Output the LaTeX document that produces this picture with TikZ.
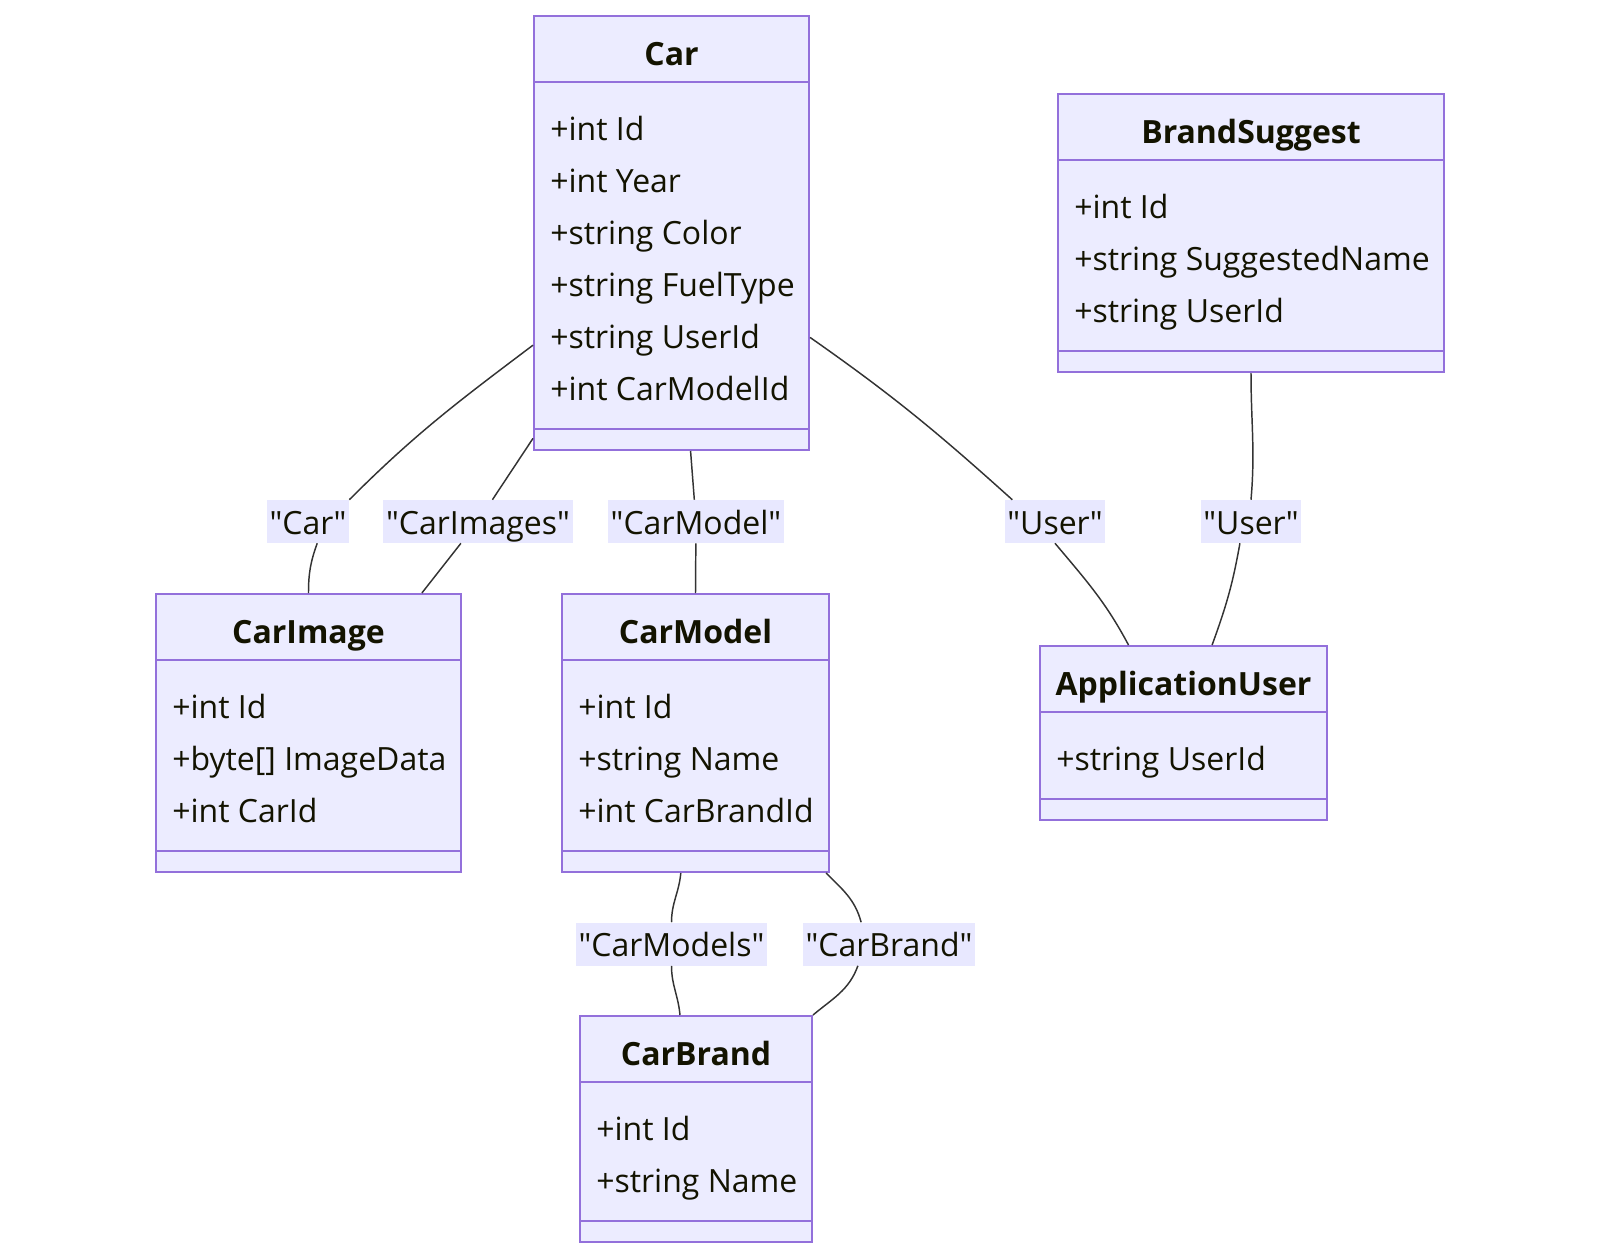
\documentclass[tikz,border=0pt]{standalone}
\usepackage{fontspec}
\setmainfont{Open Sans}
\usetikzlibrary{fit,calc}
\definecolor{ClassFill}{HTML}{ECECFF}
\definecolor{ClassLine}{HTML}{9370DB}
\definecolor{ClassText}{HTML}{131300}
\definecolor{EdgeGray}{HTML}{333333}
\definecolor{RoleFill}{HTML}{E8E8FF}

\begin{document}
\begin{tikzpicture}[
  x=0.75pt, y=-0.75pt,
  cls/.style={draw=ClassLine, fill=ClassFill, line width=1.5pt, inner sep=0pt},
  sep/.style={draw=ClassLine, line width=1.5pt},
  title/.style={anchor=base, inner sep=0pt, text=ClassText, font=\fontsize{24}{39}\selectfont\bfseries},
  attrs/.style={anchor=base west, inner sep=0pt, align=left, text=ClassText, font=\fontsize{24}{39}\selectfont},
  rel/.style={draw=EdgeGray, line width=1.1pt},
  role/.style={fill=RoleFill, text=ClassText, inner xsep=2pt, inner ysep=0pt, text height=25.5pt, text depth=6.75pt, font=\fontsize{24}{39}\selectfont}
]
\useasboundingbox (0,0) rectangle (1600,1258);

% class boxes
\node[cls, fit={(534,16) (809,450)}] (car) {};
\node[cls, fit={(1058,94) (1444,372)}] (bs) {};
\node[cls, fit={(156,594) (461,872)}] (carimage) {};
\node[cls, fit={(562,594) (829,872)}] (carmodel) {};
\node[cls, fit={(1040,646) (1327,820)}] (appuser) {};
\node[cls, fit={(580,1016) (812,1242)}] (carbrand) {};

% compartments
\draw[sep] ($(car.north west)+(0,67)$) -- ($(car.north east)+(0,67)$);
\draw[sep] ($(car.south west)+(0,-22)$) -- ($(car.south east)+(0,-22)$);
\draw[sep] ($(bs.north west)+(0,67)$) -- ($(bs.north east)+(0,67)$);
\draw[sep] ($(bs.south west)+(0,-22)$) -- ($(bs.south east)+(0,-22)$);
\draw[sep] ($(carimage.north west)+(0,67)$) -- ($(carimage.north east)+(0,67)$);
\draw[sep] ($(carimage.south west)+(0,-22)$) -- ($(carimage.south east)+(0,-22)$);
\draw[sep] ($(carmodel.north west)+(0,67)$) -- ($(carmodel.north east)+(0,67)$);
\draw[sep] ($(carmodel.south west)+(0,-22)$) -- ($(carmodel.south east)+(0,-22)$);
\draw[sep] ($(appuser.north west)+(0,67)$) -- ($(appuser.north east)+(0,67)$);
\draw[sep] ($(appuser.south west)+(0,-22)$) -- ($(appuser.south east)+(0,-22)$);
\draw[sep] ($(carbrand.north west)+(0,67)$) -- ($(carbrand.north east)+(0,67)$);
\draw[sep] ($(carbrand.south west)+(0,-22)$) -- ($(carbrand.south east)+(0,-22)$);

% names and members (base = last line)
\node[title] (carTitle) at (671.5,65) {Car};
\node[attrs] (carAttr) at (550,400) {+int Id\\+int Year\\+string Color\\+string FuelType\\+string UserId\\+int CarModelId};
\node[title] (bsTitle) at (1251,143) {BrandSuggest};
\node[attrs] (bsAttr) at (1074,322) {+int Id\\+string SuggestedName\\+string UserId};
\node[title] (carimageTitle) at (308.5,643) {CarImage};
\node[attrs] (carimageAttr) at (172,822) {+int Id\\+byte[] ImageData\\+int CarId};
\node[title] (carmodelTitle) at (695.5,643) {CarModel};
\node[attrs] (carmodelAttr) at (578,822) {+int Id\\+string Name\\+int CarBrandId};
\node[title] (appuserTitle) at (1183.5,695) {ApplicationUser};
\node[attrs] (appuserAttr) at (1056,770) {+string UserId};
\node[title] (carbrandTitle) at (696,1065) {CarBrand};
\node[attrs] (carbrandAttr) at (596,1192) {+int Id\\+string Name};

% role labels
\node[role] (lCar) at (308,521.5) {\textquotedbl Car\textquotedbl};
\node[role] (lCarImages) at (478,521.5) {\textquotedbl CarImages\textquotedbl};
\node[role] (lCarModel) at (696,521.5) {\textquotedbl CarModel\textquotedbl};
\node[role] (lUser1) at (1055,521.5) {\textquotedbl User\textquotedbl};
\node[role] (lUser2) at (1251,521.5) {\textquotedbl User\textquotedbl};
\node[role] (lCarModels) at (671.5,944) {\textquotedbl CarModels\textquotedbl};
\node[role] (lCarBrand) at (889,944) {\textquotedbl CarBrand\textquotedbl};

% relations
\draw[rel] (car.219) to[out=217,in=45] (lCar.north east);
\draw[rel] (lCar.293) to[out=-110,in=90] (carimage.north);
\draw[rel] (car.236) -- (lCarImages) -- (carimage.51);
\draw[rel] (car.275) -- (lCarModel) -- (carmodel.north);
\draw[rel] (car.323) to[out=-35,in=138] (lUser1.153);
\draw[rel] (lUser1.south) to[out=-50,in=118] (appuser.122);
\draw[rel] (bs.south) to[out=-90,in=85] (lUser2.north);
\draw[rel] (lUser2.243) to[out=-100,in=70] (appuser.72);
\draw[rel] (carmodel.264) to[out=-95,in=90] (lCarModels.north);
\draw[rel] (lCarModels.south) to[out=-90,in=95] (carbrand.98);
\draw[rel] (carmodel.313) to[out=-45,in=105] (lCarBrand.142);
\draw[rel] (lCarBrand.215) to[out=-110,in=40] (carbrand.north east);
\end{tikzpicture}
\end{document}
